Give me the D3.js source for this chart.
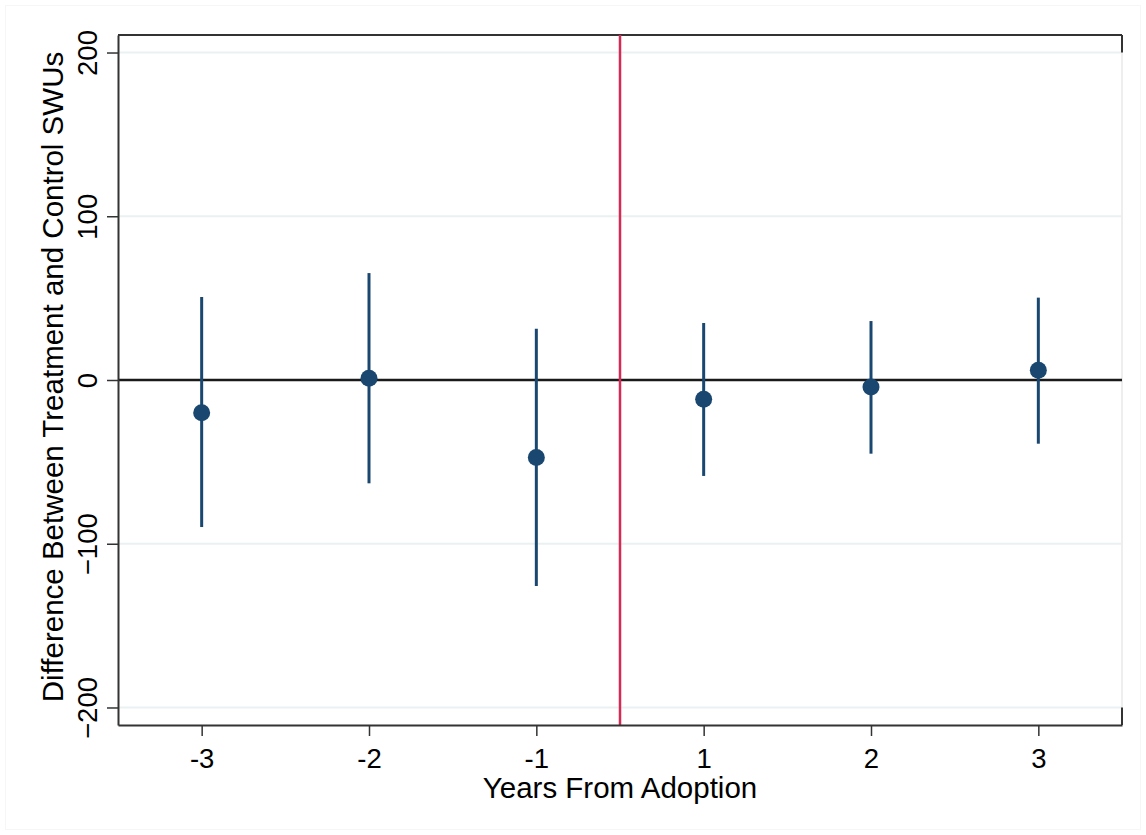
<!DOCTYPE html>
<html>
<head>
<meta charset="utf-8">
<script src="https://cdn.jsdelivr.net/npm/d3@7"></script>
<style>
  body { margin: 0; background: #fff; }
  text { font-family: "Liberation Sans", Arial, sans-serif; fill: #000; }
</style>
</head>
<body>
<div id="chart"></div>
<script>
// Event-study estimates
var years = ["-3", "-2", "-1", "1", "2", "3"];
var estimates = [-20, 1, -47.4, -11.8, -4.3, 5.9];
var ciLower = [-89.8, -63.1, -125.8, -58.6, -45.0, -38.9];
var ciUpper = [50.7, 65.3, 31.3, 34.8, 36.0, 50.3];
var yTicks = [-200, -100, 0, 100, 200];

var width = 1146, height = 835;
var margin = { top: 35, right: 24, bottom: 110, left: 118 };
var plotW = width - margin.left - margin.right;
var plotH = height - margin.top - margin.bottom;

var svg = d3.select("#chart").append("svg")
    .attr("width", width)
    .attr("height", height);

// faint outer frame of the graph region
svg.append("rect")
    .attr("x", 5.5).attr("y", 5.5)
    .attr("width", width - 11).attr("height", height - 11)
    .attr("fill", "none")
    .attr("stroke", "#f6f6f6");

var g = svg.append("g")
    .attr("transform", "translate(" + margin.left + "," + margin.top + ")");

var x = d3.scalePoint().domain(years).range([0, plotW]).padding(0.5);
var y = d3.scaleLinear().domain([-210.7, 210.7]).range([plotH, 0]);

// grid lines
g.selectAll(".grid").data(yTicks.filter(function (d) { return d != 0; }))
    .enter().append("line")
    .attr("x1", 0).attr("x2", plotW)
    .attr("y1", function (d) { return y(d); })
    .attr("y2", function (d) { return y(d); })
    .attr("stroke", "#eaf1f3")
    .attr("stroke-width", 2);

// right light border
g.append("line")
    .attr("x1", plotW).attr("x2", plotW)
    .attr("y1", 0).attr("y2", plotH)
    .attr("stroke", "#eeeeee").attr("stroke-width", 2);

// dark frame pieces
g.append("line")
    .attr("x1", 0).attr("x2", plotW).attr("y1", 0).attr("y2", 0)
    .attr("stroke", "#333").attr("stroke-width", 2);
g.append("line")
    .attr("x1", plotW).attr("x2", plotW).attr("y1", 0).attr("y2", y(200))
    .attr("stroke", "#333").attr("stroke-width", 2);
g.append("line")
    .attr("x1", plotW).attr("x2", plotW).attr("y1", y(-200)).attr("y2", plotH)
    .attr("stroke", "#333").attr("stroke-width", 2);

// zero reference line
g.append("line")
    .attr("x1", 0).attr("x2", plotW)
    .attr("y1", y(0)).attr("y2", y(0))
    .attr("stroke", "#1a1a1a").attr("stroke-width", 2.5);

// adoption line between -1 and 1
var xAdopt = (x("-1") + x("1")) / 2;
g.append("line")
    .attr("x1", xAdopt).attr("x2", xAdopt)
    .attr("y1", 0).attr("y2", plotH)
    .attr("stroke", "#d52a55").attr("stroke-width", 2.5);

// axes
var yAxis = g.append("g")
    .call(d3.axisLeft(y).tickValues(yTicks).tickSize(11).tickSizeOuter(0).tickPadding(10));
yAxis.select(".domain").attr("stroke", "#333").attr("stroke-width", 2);
yAxis.selectAll(".tick line").attr("stroke", "#333").attr("stroke-width", 1.5);
yAxis.selectAll(".tick text")
    .attr("font-size", 27.5)
    .attr("transform", "rotate(-90)")
    .attr("x", 0).attr("y", -21)
    .attr("dy", 0)
    .attr("text-anchor", "middle");

var xAxis = g.append("g")
    .attr("transform", "translate(0," + plotH + ")")
    .call(d3.axisBottom(x).tickSize(11).tickSizeOuter(0).tickPadding(12));
xAxis.select(".domain").attr("stroke", "#333").attr("stroke-width", 2);
xAxis.selectAll(".tick line").attr("stroke", "#333").attr("stroke-width", 1.5);
xAxis.selectAll(".tick text").attr("font-size", 27.5);

// confidence intervals
g.selectAll(".ci").data(years)
    .enter().append("line")
    .attr("x1", function (d) { return x(d); })
    .attr("x2", function (d) { return x(d); })
    .attr("y1", function (d, i) { return y(ciUpper[i]); })
    .attr("y2", function (d, i) { return y(ciLower[i]); })
    .attr("stroke", "#1a476f")
    .attr("stroke-width", 3);

// point estimates
g.selectAll(".pt").data(years)
    .enter().append("circle")
    .attr("cx", function (d) { return x(d); })
    .attr("cy", function (d, i) { return y(estimates[i]); })
    .attr("r", 8.5)
    .attr("fill", "#1a476f");

// axis titles
svg.append("text")
    .attr("x", margin.left + plotW / 2)
    .attr("y", 798)
    .attr("text-anchor", "middle")
    .attr("font-size", 29.5)
    .text("Years From Adoption");

svg.append("text")
    .attr("transform", "translate(63," + (margin.top + plotH / 2 - 3) + ") rotate(-90)")
    .attr("text-anchor", "middle")
    .attr("font-size", 29.5)
    .text("Difference Between Treatment and Control SWUs");
</script>
</body>
</html>
